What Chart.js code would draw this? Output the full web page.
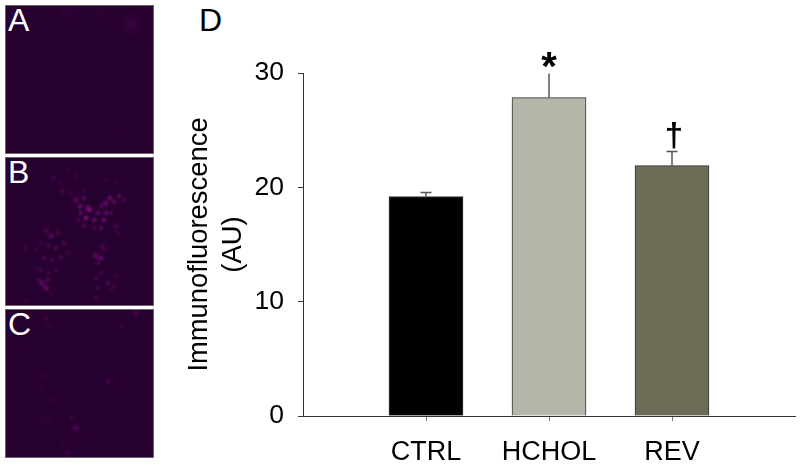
<!DOCTYPE html>
<html>
<head>
<meta charset="utf-8">
<script src="https://cdn.jsdelivr.net/npm/chart.js@4/dist/chart.umd.min.js"></script>
<style>
  html, body { margin: 0; padding: 0; background: #fff; }
  #wrap { position: relative; width: 800px; height: 465px; overflow: hidden; font-family: "Liberation Sans", Arial, sans-serif; }
  #chart { position: absolute; left: 0; top: 0; }
  .panel { position: absolute; left: 5px; width: 147px; height: 147px; background-color: #26002e; border: 1px solid #6e5f72; }
  .letter { position: absolute; font-size: 32px; line-height: 32px; color: #fff; left: 2px; top: -2px; }
  #panelD { position: absolute; left: 199px; top: 2px; font-size: 32px; line-height: 36px; color: #000; }
</style>
</head>
<body>
<div id="wrap">
  <div class="panel" id="panelA" style="top:5px"><span class="letter">A</span></div>
  <div class="panel" id="panelB" style="top:157px"><span class="letter">B</span></div>
  <div class="panel" id="panelC" style="top:309px"><span class="letter">C</span></div>
  <div id="panelD">D</div>
  <canvas id="chart" width="800" height="465"></canvas>
</div>
<script>
const categories = ['', 'CTRL', 'HCHOL', 'REV', ''];
const means = [null, 19.2, 27.85, 21.9, null];
const upperErrors = [null, 19.55, 30, 23.2, null];
const barColors = ['#000000', '#000000', '#b5b5a9', '#6c6c56', '#000000'];
const marks = [null, null, '*', '\u2020', null];
const yTicks = [0, 10, 20, 30];

// the fluorescence photos are only backdrop texture, not chart data
const spots = {
  panelA: [[60, 4, 12, .08], [125, 18, 14, .12], [95, 8, 10, .06], [122, 60, 3, .12], [118, 125, 5, .06]],
  panelB: [
    [47, 20, 4, .2], [56, 33, 4, .25], [62, 12, 4, .12], [70, 18, 4, .15], [55, 25, 4, .15], [65, 35, 4, .2],
    [78, 32, 4, .15], [100, 22, 4, .12], [110, 25, 4, .12],
    [70, 42, 5, .35], [74, 48, 4, .5], [78, 40, 4, .4], [82, 50, 5, .5], [75, 55, 4, .4], [80, 60, 4, .65],
    [84, 52, 4, .45], [88, 62, 4, .5], [92, 55, 4, .4], [96, 48, 4, .4], [100, 45, 4, .5], [104, 40, 4, .5],
    [108, 44, 4, .4], [113, 38, 4, .35], [118, 42, 4, .25], [98, 62, 4, .5], [100, 55, 4, .45], [95, 70, 4, .35],
    [88, 70, 4, .25], [78, 68, 4, .3], [110, 68, 5, .25], [112, 75, 4, .2], [105, 55, 4, .25], [72, 62, 4, .25],
    [40, 72, 5, .25], [45, 78, 5, .35], [52, 75, 4, .25], [35, 85, 4, .2], [42, 88, 4, .25], [50, 90, 4, .3],
    [58, 85, 4, .25], [62, 95, 4, .2], [30, 92, 4, .15], [20, 90, 4, .15], [38, 100, 4, .25], [46, 102, 4, .25],
    [55, 100, 4, .25], [35, 112, 4, .25], [42, 115, 4, .2], [50, 112, 4, .2], [30, 110, 4, .15],
    [36, 125, 5, .4], [40, 130, 4, .55], [33, 122, 4, .25], [42, 122, 4, .3], [45, 135, 4, .15],
    [90, 98, 5, .4], [95, 100, 4, .5], [98, 92, 4, .25], [92, 105, 4, .25], [96, 88, 4, .25], [90, 120, 4, .25],
    [92, 130, 4, .2], [95, 115, 4, .2], [102, 125, 4, .25], [108, 128, 4, .2], [110, 118, 4, .15], [90, 140, 4, .25],
    [105, 132, 4, .15], [20, 143, 4, .15]
  ],
  panelC: [
    [40, 8, 5, .17], [43, 16, 5, .13], [130, 3, 5, .25], [115, 17, 4, .17], [102, 71, 4, .25], [23, 40, 4, .08],
    [40, 66, 5, .1], [35, 78, 5, .08], [45, 90, 7, .07], [70, 118, 5, .34], [66, 108, 4, .17], [58, 130, 5, .12],
    [40, 110, 9, .07], [62, 143, 5, .17], [55, 95, 5, .07], [85, 125, 5, .08], [112, 75, 7, .04]
  ]
};

Object.keys(spots).forEach(id => {
  document.getElementById(id).style.backgroundImage = spots[id].map(s =>
    `radial-gradient(circle ${s[2]}px at ${s[0]}px ${s[1]}px, rgba(170,20,170,${s[3]}), rgba(170,20,170,0))`
  ).join(',');
});

const errorBars = {
  id: 'errorBars',
  afterDatasetsDraw(chart) {
    const { ctx, scales: { x, y } } = chart;
    ctx.save();
    categories.forEach((c, i) => {
      if (means[i] === null) return;
      const px = Math.round(x.getPixelForValue(i));
      const top = Math.round(y.getPixelForValue(upperErrors[i])) + 0.5;
      ctx.strokeStyle = '#555';
      ctx.lineWidth = 1.5;
      ctx.beginPath();
      ctx.moveTo(px, y.getPixelForValue(means[i]));
      ctx.lineTo(px, top);
      if (c !== 'HCHOL') {
        ctx.moveTo(px - 5.5, top);
        ctx.lineTo(px + 5.5, top);
      }
      ctx.stroke();
      if (marks[i]) {
        ctx.fillStyle = '#000';
        ctx.textAlign = 'center';
        ctx.textBaseline = 'alphabetic';
        ctx.font = marks[i] === '*' ? 'bold 40px "Liberation Sans"' : 'bold 33px "Liberation Sans"';
        ctx.fillText(marks[i], px + (marks[i] === '*' ? 0 : 2), top + (marks[i] === '*' ? 6 : -6));
      }
    });
    ctx.restore();
  }
};

new Chart(document.getElementById('chart'), {
  type: 'bar',
  data: {
    labels: categories,
    datasets: [{
      data: means,
      backgroundColor: barColors,
      borderColor: '#333',
      borderWidth: 1,
      barThickness: 74
    }]
  },
  options: {
    responsive: false,
    animation: false,
    layout: { padding: { left: 182, right: 5, top: 73, bottom: 0 } },
    plugins: { legend: { display: false }, tooltip: { enabled: false } },
    scales: {
      x: {
        offset: false,
        // empty end labels should not eat into the axis length
        afterFit: scale => { scale.height = 49; scale.paddingLeft = 0; scale.paddingRight = 0; },
        border: { color: '#333' },
        grid: {
          offset: false,
          drawOnChartArea: false,
          tickLength: 5,
          tickColor: ctx => categories[ctx.index] ? '#777' : 'rgba(0,0,0,0)'
        },
        ticks: {
          autoSkip: false,
          maxRotation: 0,
          padding: 15,
          color: '#000',
          font: { family: '"Liberation Sans"', size: 27 }
        }
      },
      y: {
        min: 0,
        max: 30,
        afterFit: scale => { scale.width = 121; },
        afterBuildTicks: scale => { scale.ticks = yTicks.map(value => ({ value })); },
        border: { color: '#333' },
        grid: { drawOnChartArea: false, tickLength: 5, tickColor: '#333' },
        ticks: {
          padding: 14,
          color: '#000',
          font: { family: '"Liberation Sans"', size: 26.5 }
        },
        title: {
          display: true,
          text: ['Immunofluorescence', '(AU)'],
          color: '#000',
          padding: 0,
          font: { family: '"Liberation Sans"', size: 27.4, lineHeight: 1.25 }
        }
      }
    }
  },
  plugins: [errorBars]
});
</script>
</body>
</html>
